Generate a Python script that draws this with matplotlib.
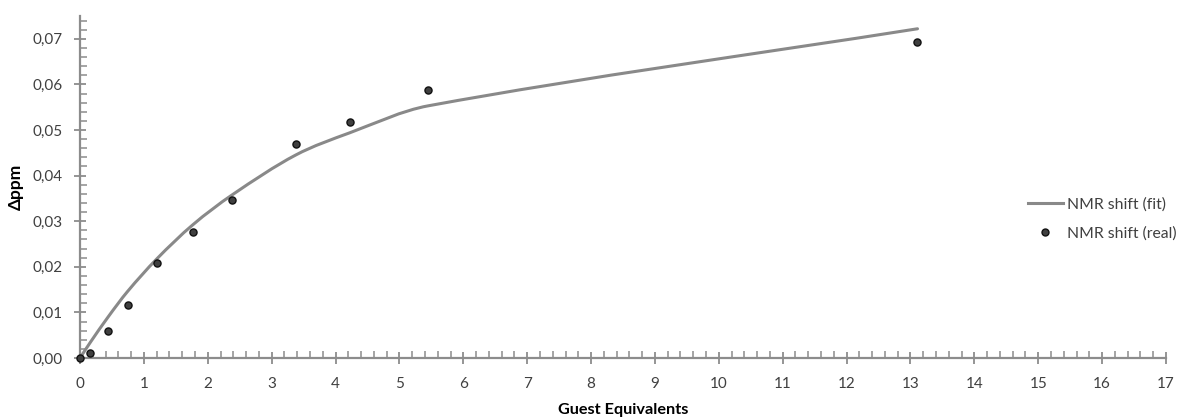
import matplotlib
matplotlib.use("Agg")
import matplotlib.pyplot as plt
from matplotlib.path import Path
from matplotlib.patches import PathPatch
from matplotlib.lines import Line2D
from matplotlib.ticker import MultipleLocator, FuncFormatter

# Data
guest_eq = [0.0, 0.16, 0.44, 0.745, 1.2, 1.765, 2.385, 3.375, 4.225, 5.45, 13.11]
shift_real = [0.0, 0.0010, 0.0060, 0.0117, 0.0209, 0.0277, 0.0346, 0.0469, 0.0518, 0.0588, 0.0694]
shift_fit = [0.0, 0.0034, 0.0090, 0.0146, 0.0217, 0.0292, 0.0358, 0.0445, 0.0494, 0.0553, 0.0722]

x_label = "Guest Equivalents"
y_label = "Δppm"
legend_fit = "NMR shift (fit)"
legend_real = "NMR shift (real)"

plt.rcParams['font.family'] = ['Lato', 'DejaVu Sans']

fig = plt.figure(figsize=(11.79, 4.17), dpi=100)
ax = fig.add_axes([80/1179, 1-358/417, (1166-80)/1179, (358-16)/417])

axis_col = '#8c8c8c'
text_col = '#404040'
line_col = '#898989'


def smooth_path(xs, ys):
    """Cubic Hermite (Bezier) smoothing of the line through the given points."""
    n = len(xs)
    slopes = []
    for i in range(n):
        if i == 0:
            m = (ys[1] - ys[0]) / (xs[1] - xs[0])
        elif i == n - 1:
            m = (ys[-1] - ys[-2]) / (xs[-1] - xs[-2])
        else:
            m = (ys[i + 1] - ys[i - 1]) / (xs[i + 1] - xs[i - 1])
        slopes.append(m)
    verts = [(xs[0], ys[0])]
    codes = [Path.MOVETO]
    for i in range(n - 1):
        h = xs[i + 1] - xs[i]
        c1 = (xs[i] + h / 3, ys[i] + slopes[i] * h / 3)
        c2 = (xs[i + 1] - h / 3, ys[i + 1] - slopes[i + 1] * h / 3)
        verts += [c1, c2, (xs[i + 1], ys[i + 1])]
        codes += [Path.CURVE4] * 3
    return Path(verts, codes)


patch = PathPatch(smooth_path(guest_eq, shift_fit), facecolor='none',
                  edgecolor=line_col, lw=2.2, transform=ax.transData, zorder=2,
                  capstyle='round')
ax.add_patch(patch)

ax.scatter(guest_eq, shift_real, s=26, facecolor='#3f3f3f', edgecolor='#111111',
           linewidths=1.0, zorder=3, clip_on=False)

ax.set_xlim(0, 17)
ax.set_ylim(0, 0.075)
ax.xaxis.set_major_locator(MultipleLocator(1))
ax.xaxis.set_minor_locator(MultipleLocator(0.2))
ax.yaxis.set_major_locator(MultipleLocator(0.01))
ax.yaxis.set_minor_locator(MultipleLocator(0.002))
ax.yaxis.set_major_formatter(FuncFormatter(lambda v, p: f"{v:.2f}".replace('.', ',')))
ax.xaxis.set_major_formatter(FuncFormatter(lambda v, p: f"{int(round(v))}"))

for s in ['top', 'right']:
    ax.spines[s].set_visible(False)
for s in ['left', 'bottom']:
    ax.spines[s].set_color(axis_col)
    ax.spines[s].set_linewidth(1.6)

ax.tick_params(which='major', direction='inout', length=9, width=1.3, color=axis_col,
               labelsize=11, labelcolor=text_col)
ax.tick_params(axis='y', which='major', pad=8)
ax.tick_params(axis='x', which='major', pad=9)
ax.tick_params(which='minor', direction='in', length=5, width=1.1, color=axis_col)

ax.set_xlabel(x_label, fontsize=11.7, fontweight='bold', color='#000000', labelpad=9)
ax.set_ylabel(y_label, fontsize=12.5, fontweight='bold', color='#000000', labelpad=6)

handles = [Line2D([0], [0], color=line_col, lw=2.2),
           Line2D([0], [0], marker='o', linestyle='none', markersize=5,
                  markerfacecolor='#3f3f3f', markeredgecolor='#111111')]
leg = fig.legend(handles, [legend_fit, legend_real], loc='center left',
                 bbox_to_anchor=(1014/1179, 1-219/417), frameon=False,
                 fontsize=11.3, handlelength=2.2, handletextpad=0.3, labelspacing=0.95,
                 labelcolor=text_col)

fig.savefig("out.png", dpi=100)
